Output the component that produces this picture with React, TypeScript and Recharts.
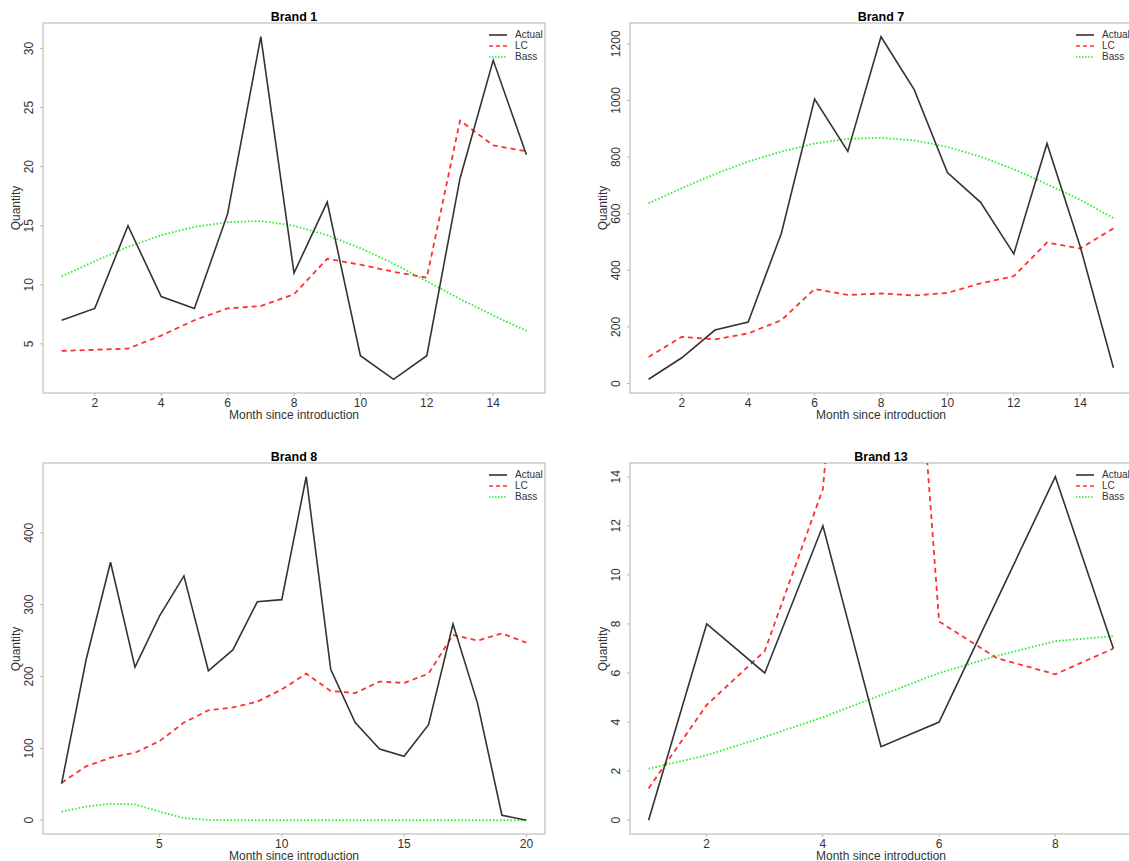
import { LineChart, Line, XAxis, YAxis, ReferenceArea } from "recharts";

const FONT = '"Liberation Sans", Arial, Helvetica, sans-serif';

// months since introduction
const months15 = [1, 2, 3, 4, 5, 6, 7, 8, 9, 10, 11, 12, 13, 14, 15];
const months20 = [1, 2, 3, 4, 5, 6, 7, 8, 9, 10, 11, 12, 13, 14, 15, 16, 17, 18, 19, 20];
const months9 = [1, 2, 3, 4, 5, 6, 7, 8, 9];

const brand1Actual = [7, 8, 15, 9, 8, 16, 31, 11, 17, 4, 2, 4, 19, 29, 21];
const brand1LC = [4.4, 4.5, 4.6, 5.7, 7.0, 8.0, 8.2, 9.2, 12.2, 11.7, 11.1, 10.6, 23.9, 21.8, 21.3];
const brand1Bass = [10.7, 12.0, 13.2, 14.2, 14.9, 15.3, 15.4, 15.0, 14.2, 13.1, 11.8, 10.3, 8.8, 7.4, 6.1];

const brand7Actual = [15, 91, 189, 217, 531, 1005, 820, 1225, 1038, 745, 640, 458, 848, 484, 56];
const brand7LC = [94, 165, 156, 177, 224, 334, 313, 318, 311, 320, 354, 379, 498, 477, 548];
const brand7Bass = [637, 690, 740, 784, 819, 848, 864, 868, 859, 836, 801, 757, 704, 649, 584];

const brand8Actual = [51, 223, 359, 213, 284, 340, 208, 237, 304, 307, 478, 210, 136, 99, 89, 133, 273, 163, 7, 0];
const brand8LC = [52, 75, 87, 94, 110, 136, 153, 157, 165, 182, 204, 180, 177, 193, 191, 204, 258, 250, 260, 247];
const brand8Bass = [12, 19, 23, 22, 12, 3, 0.5, 0, 0, 0, 0, 0, 0, 0, 0, 0, 0, 0, 0, 0];

const brand13Actual = [0, 8, 6, 12, 3, 4, 9, 14, 7];
const brand13LC = [1.3, 4.7, 6.9, 13.5, 40, 8.1, 6.6, 5.95, 7.0];
const brand13Bass = [2.1, 2.65, 3.4, 4.2, 5.1, 6.0, 6.7, 7.3, 7.5];

const ticks2to14 = [2, 4, 6, 8, 10, 12, 14];

const toRows = (months: number[], actual: number[], lc: number[], bass: number[]) =>
  months.map((m, i) => ({ month: m, actual: actual[i], lc: lc[i], bass: bass[i] }));

const YTick = (props: any) => {
  const { x, y, payload } = props;
  const cx = x - 9;
  return (
    <text
      x={cx}
      y={y}
      transform={`rotate(-90 ${cx} ${y})`}
      textAnchor="middle"
      dominantBaseline="central"
      fontSize={12}
      fill="#333"
      fontFamily={FONT}
    >
      {payload.value}
    </text>
  );
};

const legendItems = [
  { label: "Actual", color: "#333", dash: undefined },
  { label: "LC", color: "#ff3030", dash: "4 3" },
  { label: "Bass", color: "#22ee22", dash: "1.5 1.5" },
];

function Panel(props: any) {
  const { title, data, left, top, width, height, box, xDomain, xTicks, yDomain, yTicks } = props;
  const [bl, bt, br, bb] = box;
  const midX = (bl + br) / 2;
  const midY = (bt + bb) / 2;
  return (
    <div style={{ position: "absolute", left, top, width, height }}>
      <LineChart
        width={width}
        height={height}
        data={data}
        margin={{ top: bt, right: width - br, left: 0, bottom: 0 }}
      >
        <XAxis
          dataKey="month"
          type="number"
          domain={xDomain}
          ticks={xTicks}
          allowDataOverflow
          height={height - bb}
          axisLine={false}
          tickLine={{ stroke: "#bbb" }}
          tickSize={3}
          tickMargin={2}
          tick={{ fontSize: 12, fill: "#333", fontFamily: FONT }}
        />
        <YAxis
          type="number"
          domain={yDomain}
          ticks={yTicks}
          allowDataOverflow
          width={bl}
          axisLine={false}
          tickLine={{ stroke: "#bbb" }}
          tickSize={3}
          tickMargin={2}
          tick={<YTick />}
        />
        <ReferenceArea
          x1={xDomain[0]}
          x2={xDomain[1]}
          y1={yDomain[0]}
          y2={yDomain[1]}
          fill="none"
          stroke="#cccccc"
          strokeWidth={1.5}
          ifOverflow="visible"
        />
        <Line
          type="linear"
          dataKey="bass"
          stroke="#22ee22"
          strokeWidth={1.8}
          strokeDasharray="1.5 2"
          dot={false}
          isAnimationActive={false}
        />
        <Line
          type="linear"
          dataKey="lc"
          stroke="#ff3030"
          strokeWidth={1.8}
          strokeDasharray="5 4"
          dot={false}
          isAnimationActive={false}
        />
        <Line
          type="linear"
          dataKey="actual"
          stroke="#333"
          strokeWidth={1.6}
          dot={false}
          isAnimationActive={false}
        />
      </LineChart>
      <div
        style={{
          position: "absolute",
          left: midX,
          top: 17,
          transform: "translate(-50%, -50%)",
          fontWeight: "bold",
          fontSize: 12.5,
          lineHeight: "13px",
          whiteSpace: "nowrap",
        }}
      >
        {title}
      </div>
      <div
        style={{
          position: "absolute",
          left: midX,
          top: bb + 22,
          transform: "translate(-50%, -50%)",
          fontSize: 12,
          lineHeight: "11px",
          color: "#333",
          whiteSpace: "nowrap",
        }}
      >
        Month since introduction
      </div>
      <div
        style={{
          position: "absolute",
          left: bl - 27,
          top: midY,
          transform: "translate(-50%, -50%) rotate(-90deg)",
          fontSize: 12,
          lineHeight: "12px",
          color: "#333",
          whiteSpace: "nowrap",
        }}
      >
        Quantity
      </div>
      {legendItems.map((it, i) => (
        <div
          key={it.label}
          style={{
            position: "absolute",
            left: br - 57,
            top: bt + 11.7 + i * 11 - 6,
            height: 12,
            display: "flex",
            alignItems: "center",
            fontSize: 10,
            color: "#333",
            whiteSpace: "nowrap",
          }}
        >
          <svg width={20} height={12} style={{ marginRight: 7 }}>
            <line
              x1={1}
              y1={6}
              x2={19}
              y2={6}
              stroke={it.color}
              strokeWidth={1.6}
              strokeDasharray={it.dash}
            />
          </svg>
          {it.label}
        </div>
      ))}
    </div>
  );
}

export default function App() {
  return (
    <div
      style={{
        position: "absolute",
        left: 0,
        top: 0,
        width: 1129,
        height: 861,
        overflow: "hidden",
        background: "#fff",
        fontFamily: FONT,
      }}
    >
      <Panel
        title="Brand 1"
        data={toRows(months15, brand1Actual, brand1LC, brand1Bass)}
        left={0}
        top={0}
        width={564}
        height={440}
        box={[43, 23, 545, 393]}
        xDomain={[0.44, 15.56]}
        xTicks={ticks2to14}
        yDomain={[0.84, 32.16]}
        yTicks={[5, 10, 15, 20, 25, 30]}
      />
      <Panel
        title="Brand 7"
        data={toRows(months15, brand7Actual, brand7LC, brand7Bass)}
        left={564}
        top={0}
        width={568}
        height={440}
        box={[66, 23, 568, 393]}
        xDomain={[0.44, 15.56]}
        xTicks={ticks2to14}
        yDomain={[-33.4, 1273.4]}
        yTicks={[0, 200, 400, 600, 800, 1000, 1200]}
      />
      <Panel
        title="Brand 8"
        data={toRows(months20, brand8Actual, brand8LC, brand8Bass)}
        left={0}
        top={440}
        width={564}
        height={421}
        box={[43, 23, 545, 394]}
        xDomain={[0.24, 20.76]}
        xTicks={[5, 10, 15, 20]}
        yDomain={[-19.12, 497.12]}
        yTicks={[0, 100, 200, 300, 400]}
      />
      <Panel
        title="Brand 13"
        data={toRows(months9, brand13Actual, brand13LC, brand13Bass)}
        left={564}
        top={440}
        width={568}
        height={421}
        box={[66, 23, 568, 394]}
        xDomain={[0.68, 9.32]}
        xTicks={[2, 4, 6, 8]}
        yDomain={[-0.56, 14.56]}
        yTicks={[0, 2, 4, 6, 8, 10, 12, 14]}
      />
    </div>
  );
}
